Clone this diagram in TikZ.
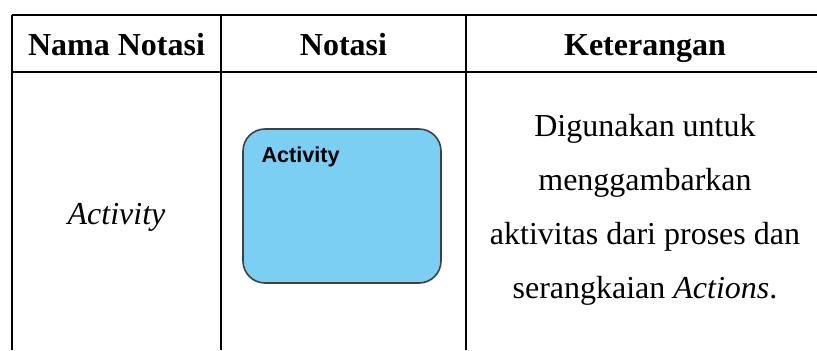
\documentclass[tikz,border=0pt]{standalone}
\usepackage{fontspec}
\setmainfont{Liberation Serif}
\newfontfamily\boxfont{Liberation Sans}
\usepackage{xcolor}
\usepackage{tikz}
\usetikzlibrary{positioning, calc}

\definecolor{actblue}{HTML}{7BCFF2}

\begin{document}
\begin{tikzpicture}[
    x=0.5pt, y=-0.5pt,
    rule/.style={line width=1.1pt, black},
    head/.style={anchor=base, inner sep=0pt, font=\fontsize{16}{19}\selectfont\bfseries},
    body/.style={anchor=base, inner sep=0pt, align=center, font=\fontsize{16}{27}\selectfont},
    actbox/.style={draw=black!75, line width=0.8pt, fill=actblue, rounded corners=11pt, minimum width=99pt, minimum height=77pt},
    actlabel/.style={anchor=north west, inner sep=0pt, font=\boxfont\fontsize{10.8}{12}\selectfont\bfseries}
]
\useasboundingbox (0,0) rectangle (817,350);

% Table rules
\draw[rule] (12,15) -- (817,15);
\draw[rule] (12,72) -- (817,72);
\foreach \x in {12,221,466}
    \draw[rule] (\x,15) -- (\x,350);

% Header
\node (hdrnama) [head] at (116.5,55) {Nama Notasi};
\node (hdrnotasi) [head] at (343.5,55) {Notasi};
\node (hdrket) [head] at (645,55) {Keterangan};

% Row
\node (nama) [body] at (116.5,224) {\textit{Activity}};
\node (activity) [actbox] at (342,206) {};
\node (actlbl) [actlabel] at ([xshift=9.5pt,yshift=-9pt]activity.north west) {Activity};
% base of a multi-line node is its last line
\node (ket) [body] at (645,298) {Digunakan untuk\\menggambarkan\\aktivitas dari proses dan\\serangkaian \textit{Actions}.};

\end{tikzpicture}
\end{document}
